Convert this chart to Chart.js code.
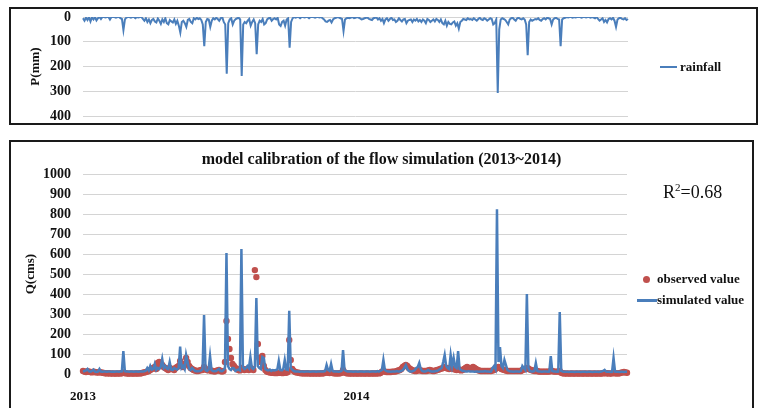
<!DOCTYPE html>
<html lang="en">
<head>
    <meta charset="UTF-8">
    <title>Flow simulation calibration 2013~2014</title>
    <script src="https://cdnjs.cloudflare.com/ajax/libs/Chart.js/4.4.1/chart.umd.js"></script>
    <style>
        body {
            margin: 0;
            width: 759px;
            height: 408px;
            overflow: hidden;
            background: #fff;
            font-family: 'Liberation Serif', 'Times New Roman', serif;
            position: relative;
        }
        .box {
            position: absolute;
            box-sizing: border-box;
            border: 2px solid #1a1a1a;
            background: #fff;
        }
        #rainBox { left: 9px; top: 7px; width: 749px; height: 118px; }
        #flowBox { left: 9px; top: 140px; width: 745px; height: 290px; }
        canvas { position: absolute; left: 0; top: 0; }
        .legend {
            position: absolute;
            font-weight: bold;
            font-size: 13px;
            line-height: 16px;
            color: #111;
            white-space: nowrap;
        }
        .swatch { position: absolute; background: #4a7ebb; }
        .dot { position: absolute; width: 7px; height: 7px; border-radius: 50%; background: #c0504d; }
        .r2 { position: absolute; font-size: 18px; line-height: 20px; color: #111; }
        .r2 sup { font-size: 11px; vertical-align: 7px; line-height: 0; }
    </style>
</head>
<body>
    <div class="box" id="rainBox">
        <canvas id="rainChart" width="745" height="114"></canvas>
        <div class="swatch" style="left:649px; top:57px; width:17px; height:2px;"></div>
        <div class="legend" style="left:669px; top:50px;">rainfall</div>
    </div>
    <div class="box" id="flowBox">
        <canvas id="flowChart" width="741" height="266"></canvas>
        <div class="r2" style="left:652px; top:40px;">R<sup>2</sup>=0.68</div>
        <div class="dot" style="left:632px; top:134px;"></div>
        <div class="legend" style="left:646px; top:129px;">observed value</div>
        <div class="swatch" style="left:626px; top:157px; width:20px; height:3px;"></div>
        <div class="legend" style="left:646px; top:150px;">simulated value</div>
    </div>

    <script>
        // values, one value per 2 days (2013-01-01 .. 2014-12-31)
        const rain = [
            5,15,3,12,0,18,2,10,0,14,5,0,8,0,0,2,0,0,10,0,
            0,0,3,0,0,5,8,53,10,2,0,0,3,0,0,5,0,2,0,0,
            8,15,5,20,10,25,12,8,18,22,6,15,28,10,20,5,25,30,12,18,
            22,10,28,15,35,63,20,15,25,40,12,8,20,25,5,10,3,8,5,12,
            30,118,20,8,10,40,15,5,10,3,8,15,5,0,20,30,229,25,10,5,
            30,15,8,5,3,10,238,30,20,25,15,8,35,20,10,25,150,30,15,20,
            8,30,25,10,5,3,15,8,5,10,3,30,36,20,15,35,10,5,124,20,
            5,0,3,0,0,5,0,0,2,0,0,5,0,0,0,3,0,0,2,0,
            5,10,18,20,15,12,22,10,5,3,0,2,5,8,57,10,5,3,5,2,
            0,5,3,0,2,5,10,8,5,3,2,8,10,12,5,3,2,10,5,15,
            8,25,10,5,15,8,3,12,10,20,15,5,12,18,10,8,25,15,12,10,
            20,10,15,8,18,12,20,10,15,25,8,12,20,15,10,18,8,12,20,10,
            25,30,15,35,20,28,30,22,18,35,25,47,20,15,8,10,12,5,10,8,
            12,5,10,15,8,3,10,12,5,8,15,10,5,8,30,25,10,307,50,10,
            5,8,12,20,30,10,5,3,10,15,5,3,8,10,5,10,30,154,20,10,
            15,12,8,10,5,12,15,8,5,10,3,5,8,30,10,5,3,8,10,118,
            10,5,3,0,2,0,0,3,0,2,0,0,0,3,0,0,2,0,0,3,
            0,2,5,0,8,15,10,5,20,12,22,8,5,10,3,15,40,10,5,3,
            8,10,5,12,8
        ];

        const simulated = [
            12,15,18,25,14,12,15,22,12,10,12,25,12,11,12,12,11,12,12,11,
            12,11,12,12,11,12,13,115,14,12,12,11,12,12,11,12,12,11,12,12,
            13,14,16,30,18,40,22,25,50,20,30,25,35,75,30,40,28,25,60,22,
            20,30,25,22,30,137,30,40,25,95,60,25,20,30,22,15,14,14,15,18,
            25,295,20,15,22,90,20,15,14,15,20,25,15,14,20,30,605,40,25,20,
            30,28,15,20,22,18,625,35,25,30,40,30,85,30,25,35,380,40,30,25,
            85,80,25,20,18,22,15,20,18,20,22,65,20,18,25,70,22,20,317,30,
            22,15,13,12,12,11,12,12,11,12,12,12,11,12,12,12,11,12,12,12,
            12,12,15,45,20,15,50,15,12,12,12,11,12,15,120,20,15,12,12,12,
            12,11,12,12,11,12,12,12,11,12,12,12,11,12,12,12,11,15,12,15,
            20,70,20,15,12,12,11,12,12,12,15,12,12,15,20,30,45,25,15,12,
            12,15,20,30,35,55,25,15,12,12,15,20,15,12,12,12,15,15,20,25,
            30,60,95,40,30,25,95,40,80,35,30,115,25,20,15,15,12,12,15,12,
            12,12,11,12,12,11,12,12,12,15,12,12,11,12,30,40,25,825,60,135,
            40,30,70,45,20,15,12,12,11,12,12,12,11,15,40,30,20,400,30,15,
            12,12,15,55,15,12,12,11,12,12,12,11,12,90,15,12,12,11,12,310,
            15,12,11,11,11,10,11,11,11,10,11,11,11,10,11,11,11,10,11,11,
            11,10,11,11,11,10,11,12,15,20,12,11,11,10,11,80,12,11,11,10,
            11,11,10,11,11
        ];

        const observed = [
            15,12,10,14,12,10,8,12,10,8,7,10,8,6,5,4,3,4,3,2,
            3,2,2,3,2,3,4,8,5,3,2,2,3,2,2,3,2,3,3,4,
            6,8,10,12,15,20,25,30,35,25,55,60,40,45,35,30,25,20,30,25,
            25,20,30,35,40,65,45,35,50,80,60,40,30,25,20,18,15,15,18,20,
            20,35,25,20,18,20,15,15,12,15,18,20,15,12,15,60,265,175,125,80,
            50,40,30,25,20,18,30,25,20,22,25,20,30,25,20,520,485,150,80,60,
            90,40,20,12,10,8,6,6,5,5,5,6,6,5,5,8,6,10,170,70,
            25,15,10,8,6,5,4,4,3,3,4,3,2,3,2,3,2,3,2,3,
            3,4,6,8,6,5,8,5,4,3,3,3,4,6,20,8,5,3,3,2,
            3,2,3,2,2,3,2,3,2,2,3,2,2,3,2,3,2,4,3,5,
            12,15,12,10,10,10,10,12,12,12,15,18,20,25,35,40,45,40,30,25,
            20,18,15,15,18,20,18,15,15,15,15,18,20,18,15,15,18,20,22,25,
            28,30,35,30,28,25,30,28,25,22,20,25,20,18,20,25,30,35,30,25,
            30,35,30,25,20,18,15,15,15,15,15,15,15,15,18,20,25,30,35,30,
            25,22,20,18,15,15,15,15,15,15,15,15,15,15,20,22,25,30,28,22,
            20,18,15,15,15,12,12,12,12,12,12,12,12,15,15,12,12,12,12,15,
            6,4,3,2,3,2,2,3,2,2,3,2,2,3,2,2,3,2,2,3,
            2,2,3,2,2,3,2,2,4,5,3,4,3,2,3,6,4,3,3,4,
            6,8,10,8,6
        ];

        const yearLabels = ['2013', '2014'];
        const yearIndex = [0, 183];
        const rainTicks = [0, 100, 200, 300, 400];
        const flowTicks = [0, 100, 200, 300, 400, 500, 600, 700, 800, 900, 1000];

        const labels = rain.map((_, i) => i);
        const serif = "'Liberation Serif', 'Times New Roman', serif";
        const blue = '#4a7ebb';
        const red = '#c0504d';
        const gridColor = '#d4d4d4';

        Chart.defaults.font.family = serif;
        Chart.defaults.color = '#111';

        // empty axis on the right keeps room for the html legend
        const spacerAxis = (w) => ({
            position: 'right',
            display: true,
            grid: { display: false },
            border: { display: false },
            ticks: { display: false },
            afterFit: s => { s.width = w; }
        });

        // rainfall panel, axis upside down
        new Chart(document.getElementById('rainChart'), {
            type: 'line',
            data: {
                labels: labels,
                datasets: [{
                    label: 'rainfall',
                    data: rain,
                    borderColor: blue,
                    borderWidth: 2,
                    pointRadius: 0,
                    tension: 0
                }]
            },
            options: {
                responsive: false,
                animation: false,
                layout: { padding: { left: 0, right: 0, top: 8, bottom: 7 } },
                plugins: { legend: { display: false }, tooltip: { enabled: false } },
                scales: {
                    x: { display: false },
                    y: {
                        reverse: true,
                        min: 0,
                        max: 400,
                        afterBuildTicks: s => { s.ticks = rainTicks.map(v => ({ value: v })); },
                        afterFit: s => { s.width = 72; s.paddingTop = 0; s.paddingBottom = 0; },
                        grid: { color: gridColor, drawTicks: false },
                        border: { display: false },
                        ticks: { padding: 12, font: { size: 14, weight: 'bold' }, callback: v => String(v) },
                        title: {
                            display: true,
                            text: 'P(mm)',
                            padding: { top: 17, bottom: 0 },
                            font: { size: 13, weight: 'bold' }
                        }
                    },
                    pad: spacerAxis(128)
                }
            }
        });

        // flow panel
        new Chart(document.getElementById('flowChart'), {
            type: 'line',
            data: {
                labels: labels,
                datasets: [{
                    label: 'simulated value',
                    data: simulated,
                    borderColor: blue,
                    borderWidth: 2.5,
                    pointRadius: 0,
                    tension: 0
                }, {
                    label: 'observed value',
                    data: observed,
                    showLine: false,
                    clip: 8,
                    pointRadius: 3.2,
                    pointBorderWidth: 0,
                    pointBackgroundColor: red,
                    pointBorderColor: red
                }]
            },
            options: {
                responsive: false,
                animation: false,
                layout: { padding: 0 },
                plugins: {
                    legend: { display: false },
                    tooltip: { enabled: false },
                    title: {
                        display: true,
                        text: 'model calibration of the flow simulation (2013~2014)',
                        color: '#111',
                        padding: { top: 8, bottom: 5 },
                        font: { size: 16, weight: 'bold' }
                    }
                },
                scales: {
                    x: {
                        afterFit: s => { s.height = 34; },
                        grid: { display: false },
                        border: { display: false },
                        ticks: {
                            autoSkip: false,
                            maxRotation: 0,
                            padding: 7,
                            font: { size: 13, weight: 'bold' },
                            callback: (v, i) => {
                                const k = yearIndex.indexOf(i);
                                return k >= 0 ? yearLabels[k] : '';
                            }
                        }
                    },
                    y: {
                        min: 0,
                        max: 1000,
                        afterBuildTicks: s => { s.ticks = flowTicks.map(v => ({ value: v })); },
                        afterFit: s => { s.width = 72; },
                        grid: { color: gridColor, drawTicks: false },
                        border: { display: false },
                        ticks: { padding: 12, font: { size: 14, weight: 'bold' }, callback: v => String(v) },
                        title: {
                            display: true,
                            text: 'Q(cms)',
                            padding: { top: 12, bottom: 0 },
                            font: { size: 13, weight: 'bold' }
                        }
                    },
                    pad: spacerAxis(125)
                }
            }
        });
    </script>
</body>
</html>
